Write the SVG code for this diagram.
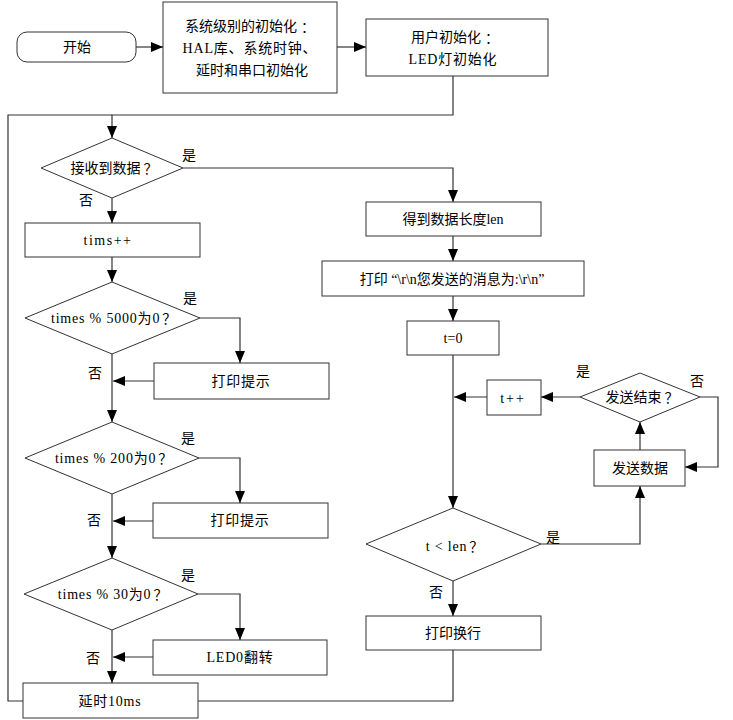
<svg xmlns="http://www.w3.org/2000/svg" width="733" height="720" viewBox="0 0 733 720">
<style>
.n{fill:#fff;stroke:#333;stroke-width:1}
.c{fill:none;stroke:#333;stroke-width:1.2}
.a{marker-end:url(#ar)}
text{font-family:"Liberation Serif","Noto Sans CJK SC",serif;font-size:14px;fill:#000;text-anchor:middle;dominant-baseline:central}
.l{letter-spacing:0.8px}
.p{font-family:"Noto Sans CJK SC",sans-serif}
</style>
<defs>
<marker id="ar" markerUnits="userSpaceOnUse" markerWidth="12" markerHeight="10" refX="12" refY="5" orient="auto">
<path d="M0,0 L12,5 L0,10 z" fill="#000"/>
</marker>
</defs>
<rect width="733" height="720" fill="#fff"/>
<g id="connectors">
<path class="c a" d="M136,47 H163"/>
<path class="c a" d="M337,47 H366"/>
<path class="c a" d="M453,76 V115 H112 V138"/>
<path class="c" d="M23,701 H8 V115 H112"/>
<path class="c" d="M198,701 H453 V650"/>
<path class="c a" d="M183,168 H453 V202"/>
<path class="c a" d="M112,198 V223"/>
<path class="c a" d="M112,257 V282"/>
<path class="c a" d="M200,318 H240 V363"/>
<path class="c a" d="M154,381 H113"/>
<path class="c a" d="M112,354 V422"/>
<path class="c a" d="M199,458 H240 V503"/>
<path class="c a" d="M153,521 H113"/>
<path class="c a" d="M112,494 V558"/>
<path class="c a" d="M198,594 H240 V640"/>
<path class="c a" d="M153,657 H113"/>
<path class="c a" d="M112,630 V683"/>
<path class="c a" d="M453,236 V261"/>
<path class="c a" d="M453,296 V321"/>
<path class="c a" d="M453,355 V508"/>
<path class="c a" d="M541,544 H640 V486"/>
<path class="c a" d="M640,450 V422"/>
<path class="c a" d="M700,397 H718 V467 H685"/>
<path class="c a" d="M580,397 H541"/>
<path class="c a" d="M487,397 H454"/>
<path class="c a" d="M453,581 V616"/>
</g>
<g id="labels">
<text x="189" y="155">是</text>
<text x="86" y="200">否</text>
<text x="190" y="298">是</text>
<text x="95" y="373">否</text>
<text x="188" y="438">是</text>
<text x="94" y="520">否</text>
<text x="188" y="575">是</text>
<text x="93" y="658">否</text>
<text x="553" y="537">是</text>
<text x="436" y="592">否</text>
<text x="583" y="371">是</text>
<text x="697" y="381">否</text>
</g>
<g id="start"><rect class="n" x="17" y="32" width="119" height="30" rx="10"/><text x="77" y="47">开始</text></g>
<g id="sysinit"><rect class="n" x="163" y="2" width="174" height="91"/><text x="250" y="26">系统级别的初始化<tspan class="p" dx="4">：</tspan></text><text x="250" y="48" class="l">HAL库、系统时钟、</text><text x="252" y="70">延时和串口初始化</text></g>
<g id="userinit"><rect class="n" x="366" y="19" width="182" height="57"/><text x="455" y="37">用户初始化<tspan class="p" dx="4">：</tspan></text><text x="453" y="59" class="l">LED灯初始化</text></g>
<g id="recv"><polygon class="n" points="112,138 183,168 112,198 41,168"/><text x="114" y="168">接收到数据<tspan class="p" dx="3">？</tspan></text></g>
<g id="tims"><rect class="n" x="25" y="223" width="175" height="34"/><text x="108" y="240" style="letter-spacing:1.5px">tims++</text></g>
<g id="d5000"><polygon class="n" points="112,282 200,318 112,354 25,318"/><text x="114" y="318" class="l">times % 5000为0<tspan class="p" dx="2">？</tspan></text></g>
<g id="p1"><rect class="n" x="154" y="363" width="175" height="36"/><text x="241" y="381" class="l">打印提示</text></g>
<g id="d200"><polygon class="n" points="112,422 199,458 112,494 25,458"/><text x="114" y="458" class="l">times % 200为0<tspan class="p" dx="2">？</tspan></text></g>
<g id="p2"><rect class="n" x="153" y="503" width="175" height="35"/><text x="240" y="520" class="l">打印提示</text></g>
<g id="d30"><polygon class="n" points="112,558 198,594 112,630 24,594"/><text x="113" y="594" class="l">times % 30为0<tspan class="p" dx="2">？</tspan></text></g>
<g id="led"><rect class="n" x="153" y="640" width="174" height="35"/><text x="240" y="657" class="l">LED0翻转</text></g>
<g id="delay"><rect class="n" x="23" y="683" width="175" height="35"/><text x="110" y="701" class="l">延时10ms</text></g>
<g id="getlen"><rect class="n" x="366" y="202" width="175" height="34"/><text x="453" y="219">得到数据长度len</text></g>
<g id="print"><rect class="n" x="322" y="261" width="262" height="35"/><text x="452" y="279">打印 “\r\n您发送的消息为:\r\n”</text></g>
<g id="t0"><rect class="n" x="407" y="321" width="92" height="34"/><text x="453" y="338">t=0</text></g>
<g id="tinc"><rect class="n" x="487" y="380" width="54" height="35"/><text x="513" y="398" style="letter-spacing:2px">t++</text></g>
<g id="sendend"><polygon class="n" points="640,373 700,397 640,422 580,397"/><text x="642" y="397">发送结束<tspan class="p" dx="3">？</tspan></text></g>
<g id="send"><rect class="n" x="594" y="450" width="91" height="36"/><text x="640" y="468">发送数据</text></g>
<g id="tlen"><polygon class="n" points="453,508 541,544 453,581 366,544"/><text x="455" y="546" class="l">t &lt; len<tspan class="p" dx="2">？</tspan></text></g>
<g id="newline"><rect class="n" x="366" y="616" width="175" height="34"/><text x="453" y="633">打印换行</text></g>
</svg>
